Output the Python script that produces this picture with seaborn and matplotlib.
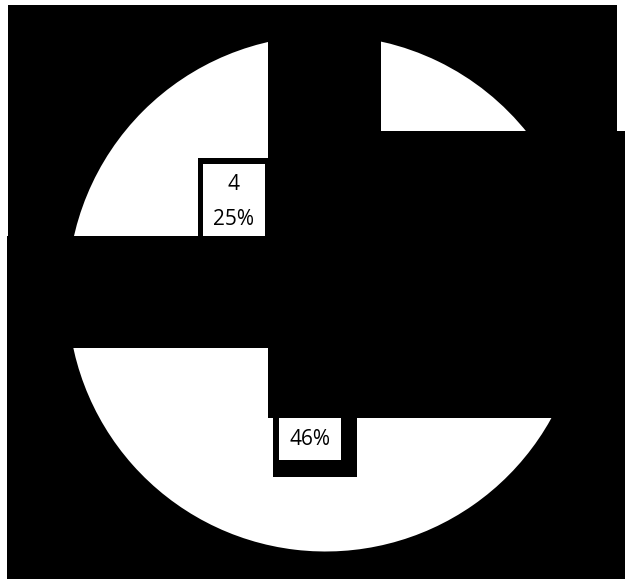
import matplotlib
matplotlib.use("Agg")
import matplotlib.pyplot as plt
from matplotlib.patches import Rectangle
from matplotlib.transforms import IdentityTransform
import seaborn as sns

# slice data
categories = ["A", "B", "C"]
values = [4, 7.4, 4.6]

sns.set_theme(style="white")
plt.rcParams["font.family"] = ["Open Sans", "DejaVu Sans"]

W, H = 625, 579
fig = plt.figure(figsize=(W / 100, H / 100), dpi=100, facecolor="white")


def px_rect(x0, y0, x1, y1, z, color="black"):
    """Rectangle given in pixel coordinates measured from the top-left corner."""
    r = Rectangle((x0 / W, 1 - y1 / H), (x1 - x0) / W, (y1 - y0) / H,
                  transform=fig.transFigure, facecolor=color,
                  edgecolor="none", zorder=z)
    fig.add_artist(r)


# dark backdrop behind the pie
px_rect(8.3, 5, 616.7, 236, -1)
px_rect(6.7, 235.7, 625, 579, -1)

ax = fig.add_axes([67.5 / W, (H - 551.5) / H, 516 / W, 516 / H])
ax.set_facecolor("none")

vals_iter = iter(values)
wedges, texts, autotexts = ax.pie(
    values,
    startangle=90,
    counterclock=True,
    colors=["white"] * len(values),
    wedgeprops=dict(edgecolor="white", linewidth=0),
    autopct=lambda p: f"{next(vals_iter):g}\n{p:.0f}%",
    pctdistance=0.5016,
    textprops=dict(fontsize=15, color="black", linespacing=1.85),
)
ax.set_xlim(-1, 1)
ax.set_ylim(-1, 1)
ax.set_aspect("auto")
ax.axis("off")

# label boxes: white panel with a dark frame, placed around each label
frames = [(-36, -44, 34, 37.5), (-37, -37.5, 47, 54.5), (-36, -44, 34, 37.5)]
fig.canvas.draw()
for t, (fl, ft, fr, fb) in zip(autotexts, frames):
    cx, cy = ax.transData.transform(t.get_position())
    # display y grows upward; offsets below are given with y growing downward
    ax.add_patch(Rectangle((cx + fl, cy - fb), fr - fl, fb - ft,
                           transform=IdentityTransform(), facecolor="black",
                           edgecolor="none", zorder=2))
    ax.add_patch(Rectangle((cx - 31, cy - 37.5), 62, 75,
                           transform=IdentityTransform(), facecolor="white",
                           edgecolor="none", zorder=2.5))
    t.set_zorder(3)

# dark panels layered over the pie
px_rect(268, 5, 381, 417.7, 5)
px_rect(381, 130.7, 625, 417.7, 5)
px_rect(6.7, 235.7, 625, 348.3, 5)

fig.savefig("out.png", dpi=100, facecolor="white")
